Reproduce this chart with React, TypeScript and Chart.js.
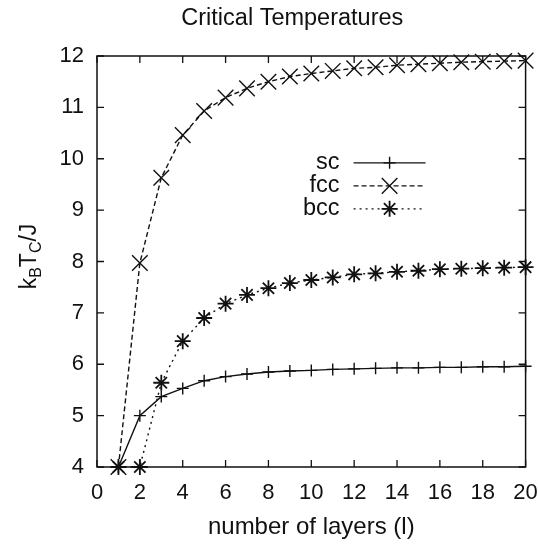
import React, { useEffect, useRef } from "react";
import { Chart, registerables } from "chart.js";
import { drawPoint } from "chart.js/helpers";

Chart.register(...registerables);

const TITLE = "Critical Temperatures";
const X_TITLE = "number of layers (l)";
const Y_TITLE_PARTS = [
  { t: "k", sub: false },
  { t: "B", sub: true },
  { t: "T", sub: false },
  { t: "C", sub: true },
  { t: "/J", sub: false },
];

const layers = [1, 2, 3, 4, 5, 6, 7, 8, 9, 10, 11, 12, 13, 14, 15, 16, 17, 18, 19, 20];
const scValues = [4.0, 5.0, 5.37, 5.53, 5.68, 5.76, 5.81, 5.85, 5.87, 5.88, 5.9, 5.91, 5.92, 5.93, 5.93, 5.94, 5.94, 5.95, 5.95, 5.96];
const fccValues = [4.0, 7.97, 9.63, 10.46, 10.93, 11.19, 11.37, 11.5, 11.6, 11.66, 11.71, 11.76, 11.78, 11.82, 11.84, 11.86, 11.88, 11.89, 11.9, 11.91];
const bccValues = [4.0, 4.0, 5.64, 6.45, 6.9, 7.18, 7.35, 7.48, 7.58, 7.64, 7.69, 7.75, 7.77, 7.8, 7.82, 7.85, 7.86, 7.87, 7.88, 7.89];

const seriesNames = ["sc", "fcc", "bcc"];
const xTicks = [0, 2, 4, 6, 8, 10, 12, 14, 16, 18, 20];
const yTicks = [4, 5, 6, 7, 8, 9, 10, 11, 12];

const FONT = '"Liberation Sans", Arial, Helvetica, sans-serif';
const INK = "#111";

const decorPlugin = {
  id: "decor",
  beforeDatasetsDraw(chart: any) {
    const ctx = chart.ctx;
    const { left, right, top, bottom } = chart.chartArea;
    const xs = chart.scales.x;
    const ys = chart.scales.y;
    const TL = 7;
    ctx.save();
    ctx.strokeStyle = INK;
    ctx.lineWidth = 1.5;
    ctx.setLineDash([]);
    ctx.strokeRect(left, top, right - left, bottom - top);
    ctx.lineWidth = 1.3;
    ctx.beginPath();
    for (const v of yTicks) {
      const y = ys.getPixelForValue(v);
      ctx.moveTo(left, y);
      ctx.lineTo(left + TL, y);
      ctx.moveTo(right, y);
      ctx.lineTo(right - TL, y);
    }
    for (const v of xTicks) {
      const x = xs.getPixelForValue(v);
      ctx.moveTo(x, bottom);
      ctx.lineTo(x, bottom - TL);
      ctx.moveTo(x, top);
      ctx.lineTo(x, top + TL);
    }
    ctx.stroke();
    ctx.restore();
  },
  afterDraw(chart: any) {
    const ctx = chart.ctx;
    const { left, right, top, bottom } = chart.chartArea;
    ctx.save();
    ctx.fillStyle = INK;
    // Title
    ctx.font = `23.5px ${FONT}`;
    ctx.textAlign = "center";
    ctx.textBaseline = "middle";
    ctx.fillText(TITLE, (left + right) / 2 - 19, top - 37);
    // X title
    ctx.font = `24px ${FONT}`;
    ctx.fillText(X_TITLE, (left + right) / 2, bottom + 60);
    // Y title with subscripts
    ctx.save();
    ctx.translate(30, (top + bottom) / 2 - 5);
    ctx.rotate(-Math.PI / 2);
    const mainFont = `23px ${FONT}`;
    const subFont = `16px ${FONT}`;
    let total = 0;
    for (const p of Y_TITLE_PARTS) {
      ctx.font = p.sub ? subFont : mainFont;
      total += ctx.measureText(p.t).width;
    }
    let cx = -total / 2;
    ctx.textAlign = "left";
    for (const p of Y_TITLE_PARTS) {
      ctx.font = p.sub ? subFont : mainFont;
      ctx.fillText(p.t, cx, p.sub ? 7 : 0);
      cx += ctx.measureText(p.t).width;
    }
    ctx.restore();
    // Legend
    const lx = left + (right - left) * 0.566;
    const ly0 = top + (bottom - top) * 0.26;
    const rowH = 23;
    chart.data.datasets.forEach((ds: any, i: number) => {
      const y = ly0 + i * rowH;
      ctx.font = `23.5px ${FONT}`;
      ctx.textAlign = "right";
      ctx.textBaseline = "middle";
      ctx.fillStyle = INK;
      ctx.fillText(ds.label, lx, y);
      ctx.strokeStyle = ds.borderColor;
      ctx.lineWidth = ds.borderWidth;
      ctx.setLineDash(ds.borderDash || []);
      ctx.beginPath();
      ctx.moveTo(lx + 14, y);
      ctx.lineTo(lx + 86, y);
      ctx.stroke();
      ctx.setLineDash([]);
      ctx.lineWidth = ds.pointBorderWidth;
      drawPoint(ctx, { pointStyle: ds.pointStyle, radius: ds.pointRadius, rotation: 0, borderWidth: ds.pointBorderWidth }, lx + 50, y);
    });
    ctx.restore();
  },
};

export default function App() {
  const canvasRef = useRef<HTMLCanvasElement | null>(null);

  useEffect(() => {
    const canvas = canvasRef.current;
    if (!canvas) return;
    const mk = (vals: number[]) => layers.map((x, i) => ({ x, y: vals[i] }));
    const chart = new Chart(canvas, {
      type: "line",
      data: {
        datasets: [
          {
            label: seriesNames[0],
            data: mk(scValues),
            borderColor: INK,
            backgroundColor: INK,
            borderWidth: 1.4,
            borderDash: [],
            pointStyle: "cross",
            pointRadius: 6,
            pointBorderWidth: 1.4,
            pointBorderColor: INK,
            fill: false,
            tension: 0,
            clip: false,
          } as any,
          {
            label: seriesNames[1],
            data: mk(fccValues),
            borderColor: INK,
            backgroundColor: INK,
            borderWidth: 1.4,
            borderDash: [5, 3],
            pointStyle: "crossRot",
            pointRadius: 11,
            pointBorderWidth: 1.4,
            pointBorderColor: INK,
            fill: false,
            tension: 0,
            clip: false,
          } as any,
          {
            label: seriesNames[2],
            data: mk(bccValues),
            borderColor: INK,
            backgroundColor: INK,
            borderWidth: 1.4,
            borderDash: [2, 4],
            pointStyle: "star",
            pointRadius: 8,
            pointBorderWidth: 1.8,
            pointBorderColor: INK,
            fill: false,
            tension: 0,
            clip: false,
          } as any,
        ],
      },
      options: {
        animation: false,
        responsive: true,
        maintainAspectRatio: false,
        layout: { padding: { top: 56, right: 12, left: 0, bottom: 0 } },
        plugins: {
          legend: { display: false },
          title: { display: false },
          tooltip: { enabled: false },
        },
        scales: {
          x: {
            type: "linear",
            min: 0,
            max: 20,
            grid: { display: false, drawTicks: false },
            border: { display: false },
            ticks: {
              stepSize: 2,
              padding: 13,
              color: INK,
              font: { family: FONT, size: 22 },
              maxRotation: 0,
            },
            afterFit: (s: any) => {
              s.height = 78;
              s.paddingLeft = 0;
              s.paddingRight = 0;
            },
          },
          y: {
            type: "linear",
            min: 4,
            max: 12,
            grid: { display: false, drawTicks: false },
            border: { display: false },
            ticks: {
              stepSize: 1,
              padding: 13,
              color: INK,
              font: { family: FONT, size: 22 },
            },
            afterFit: (s: any) => {
              s.width = 97;
              s.paddingTop = 0;
              s.paddingBottom = 0;
            },
          },
        },
      } as any,
      plugins: [decorPlugin],
    });
    return () => chart.destroy();
  }, []);

  return (
    <div style={{ position: "fixed", left: 0, top: 0, width: 538, height: 545, background: "#fff" }}>
      <canvas ref={canvasRef} />
    </div>
  );
}
